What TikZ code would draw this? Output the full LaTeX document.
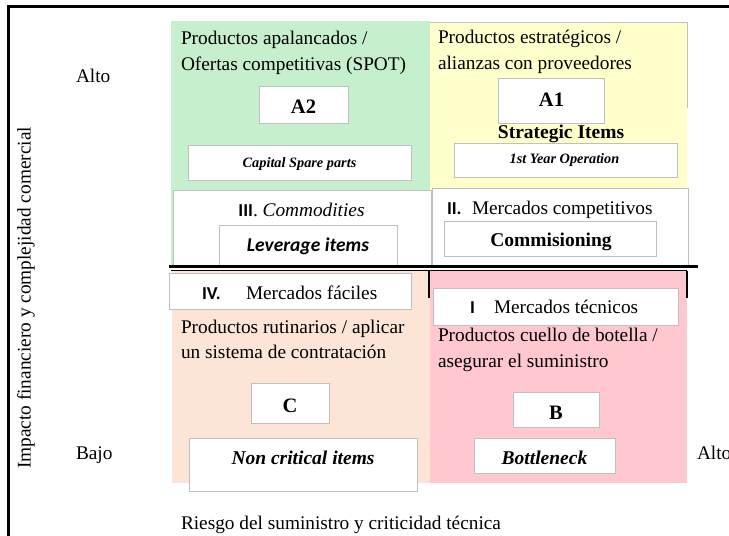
\documentclass[tikz,border=0pt]{standalone}
\usepackage{fontspec}
\setmainfont{Liberation Serif}[
  BoldFont={Liberation Serif Bold},
  ItalicFont={Liberation Serif Italic},
  BoldItalicFont={Liberation Serif Bold Italic}]
\newfontfamily\calibrifont{Carlito}
\definecolor{qgreen}{HTML}{C6EFCE}
\definecolor{qyellow}{HTML}{FFFFCC}
\definecolor{qpeach}{HTML}{FCE4D6}
\definecolor{qpink}{HTML}{FFC7CE}
\definecolor{boxgray}{HTML}{C0C0C0}
\begin{document}
\begin{tikzpicture}[x=1pt,y=-1pt,
  every node/.style={inner sep=0pt, outer sep=0pt},
  quad/.style={anchor=north west},
  box/.style={draw=boxgray, line width=0.9pt, fill=white, anchor=north west},
  body/.style={font=\fontsize{19.3}{25}\selectfont, anchor=base west},
  letter/.style={font=\bfseries\fontsize{20.5}{25}\selectfont, anchor=base},
  tag/.style={font=\bfseries\itshape\fontsize{14.3}{18}\selectfont, anchor=base},
  boldc/.style={font=\bfseries\fontsize{19.5}{25}\selectfont, anchor=base},
  bolditc/.style={font=\bfseries\itshape\fontsize{19.5}{25}\selectfont, anchor=base},
  roman/.style={font=\calibrifont\bfseries\fontsize{18.2}{25}\selectfont, anchor=base west},
  frame/.style={line width=2.6pt, black}
]
\clip (0,0) rectangle (729,536);

% quadrant backgrounds
\node[quad, fill=qgreen, minimum width=259pt, minimum height=244pt] (qgreen) at (171,21) {};
\node[quad, fill=qyellow, minimum width=257pt, minimum height=243pt] (qyellow) at (430,22) {};
\node[quad, fill=qpeach, minimum width=258pt, minimum height=212pt] (qpeach) at (172,271) {};
\node[quad, fill=qpink, minimum width=257pt, minimum height=212pt] (qpink) at (430,271) {};
\draw[boxgray, line width=0.8pt] (qyellow.north west) -- (qyellow.north east) -- ++(0,86);

% outer frame
\coordinate (fTL) at (8.5,6.5);
\coordinate (fTR) at (729,6.5);
\coordinate (fBL) at (8.5,536);
\draw[frame] (fTR) -- (fTL) -- (fBL);

% axis labels
\node[body] (altoL) at (76,82) {Alto};
\node[body] (bajoL) at (76,459) {Bajo};
\node[body] (altoR) at (697,459) {Alto};
\node[font=\fontsize{19.3}{25}\selectfont, rotate=90] (yaxis) at (26,298) {Impacto financiero y complejidad comercial};
\node[body] (xaxis) at (181,529) {Riesgo del suministro y criticidad técnica};

% upper left: A2
\node[body] (a2l1) at (181,44) {Productos apalancados /};
\node[body] (a2l2) at (181,70) {Ofertas competitivas (SPOT)};
\node[box, minimum width=89pt, minimum height=37pt] (a2box) at (259,86) {};
\node[letter] (a2t) at (303.5,113) {A2};
\node[box, minimum width=223pt, minimum height=35pt] (capbox) at (188,145) {};
\node[tag] (capt) at (299.5,167) {Capital Spare parts};

% upper right: A1
\node[body] (a1l1) at (438,43) {Productos estratégicos /};
\node[body] (a1l2) at (438,69) {alianzas con proveedores};
\node[box, minimum width=106pt, minimum height=45pt] (a1box) at (498,78) {};
\node[letter] (a1t) at (551.5,106) {A1};
\node[boldc] (strat) at (561,138) {Strategic Items};
\node[box, minimum width=223pt, minimum height=34pt] (yopbox) at (454,143) {};
\node[tag] (yopt) at (564.5,163) {1st Year Operation};

% III / II boxes
\node[box, minimum width=258pt, minimum height=75pt] (iiibox) at (173,190) {};
\node[anchor=base] (iiit) at (301.5,216) {{\calibrifont\bfseries\fontsize{18.2}{25}\selectfont III}{\fontsize{19.3}{25}\selectfont. \itshape Commodities}};
\node[box, minimum width=178pt, minimum height=40pt] (levbox) at (219,225) {};
\node[font=\calibrifont\bfseries\itshape\fontsize{19.5}{25}\selectfont, anchor=base] (levt) at (308,251) {Leverage items};

\node[box, minimum width=256pt, minimum height=77pt] (iibox) at (432,188) {};
\node[roman] (iir) at (447,214) {II.};
\node[body] (iit) at (472,214) {Mercados competitivos};
\node[box, minimum width=212pt, minimum height=35pt] (combox) at (444,221) {};
\node[boldc] (comt) at (551,246) {Commisioning};

% divider lines
\coordinate (dL) at (169,266.5);
\coordinate (dR) at (698,266.5);
\draw[line width=2.6pt] (dL) -- (dR);
\coordinate (d2L) at (171,270.6);
\coordinate (d2M) at (429,270.6);
\coordinate (d2R) at (687,270.6);
\draw[line width=1.5pt] (d2L) -- (d2R);
\draw[line width=1.8pt] (d2M) -- ++(0,27.5);
\draw[line width=1.8pt] (d2R) -- ++(0,27.5);

% lower left: C
\node[box, minimum width=242pt, minimum height=36pt] (ivbox) at (169,273) {};
\node[roman] (ivr) at (202,299) {IV.};
\node[body] (ivt) at (246,299) {Mercados fáciles};
\node[body] (cl1) at (181,333) {Productos rutinarios / aplicar};
\node[body] (cl2) at (181,358) {un sistema de contratación};
\node[box, minimum width=78pt, minimum height=40pt] (cbox) at (251,383) {};
\node[letter] (ct) at (290,412) {C};
\node[box, minimum width=228pt, minimum height=53pt] (ncbox) at (189,438) {};
\node[bolditc] (nct) at (303,464) {Non critical items};

% lower right: B
\node[box, minimum width=245pt, minimum height=37pt] (ibox) at (433,288) {};
\node[roman] (ir) at (470,313) {I};
\node[body] (it) at (494,313) {Mercados técnicos};
\node[body] (bl1) at (438,341) {Productos cuello de botella /};
\node[body] (bl2) at (438,367) {asegurar el suministro};
\node[box, minimum width=86pt, minimum height=35pt] (bbox) at (513,392) {};
\node[letter] (bt) at (556,419) {B};
\node[box, minimum width=141pt, minimum height=35pt] (bnbox) at (474,438) {};
\node[bolditc] (bnt) at (544.5,464) {Bottleneck};
\end{tikzpicture}
\end{document}
